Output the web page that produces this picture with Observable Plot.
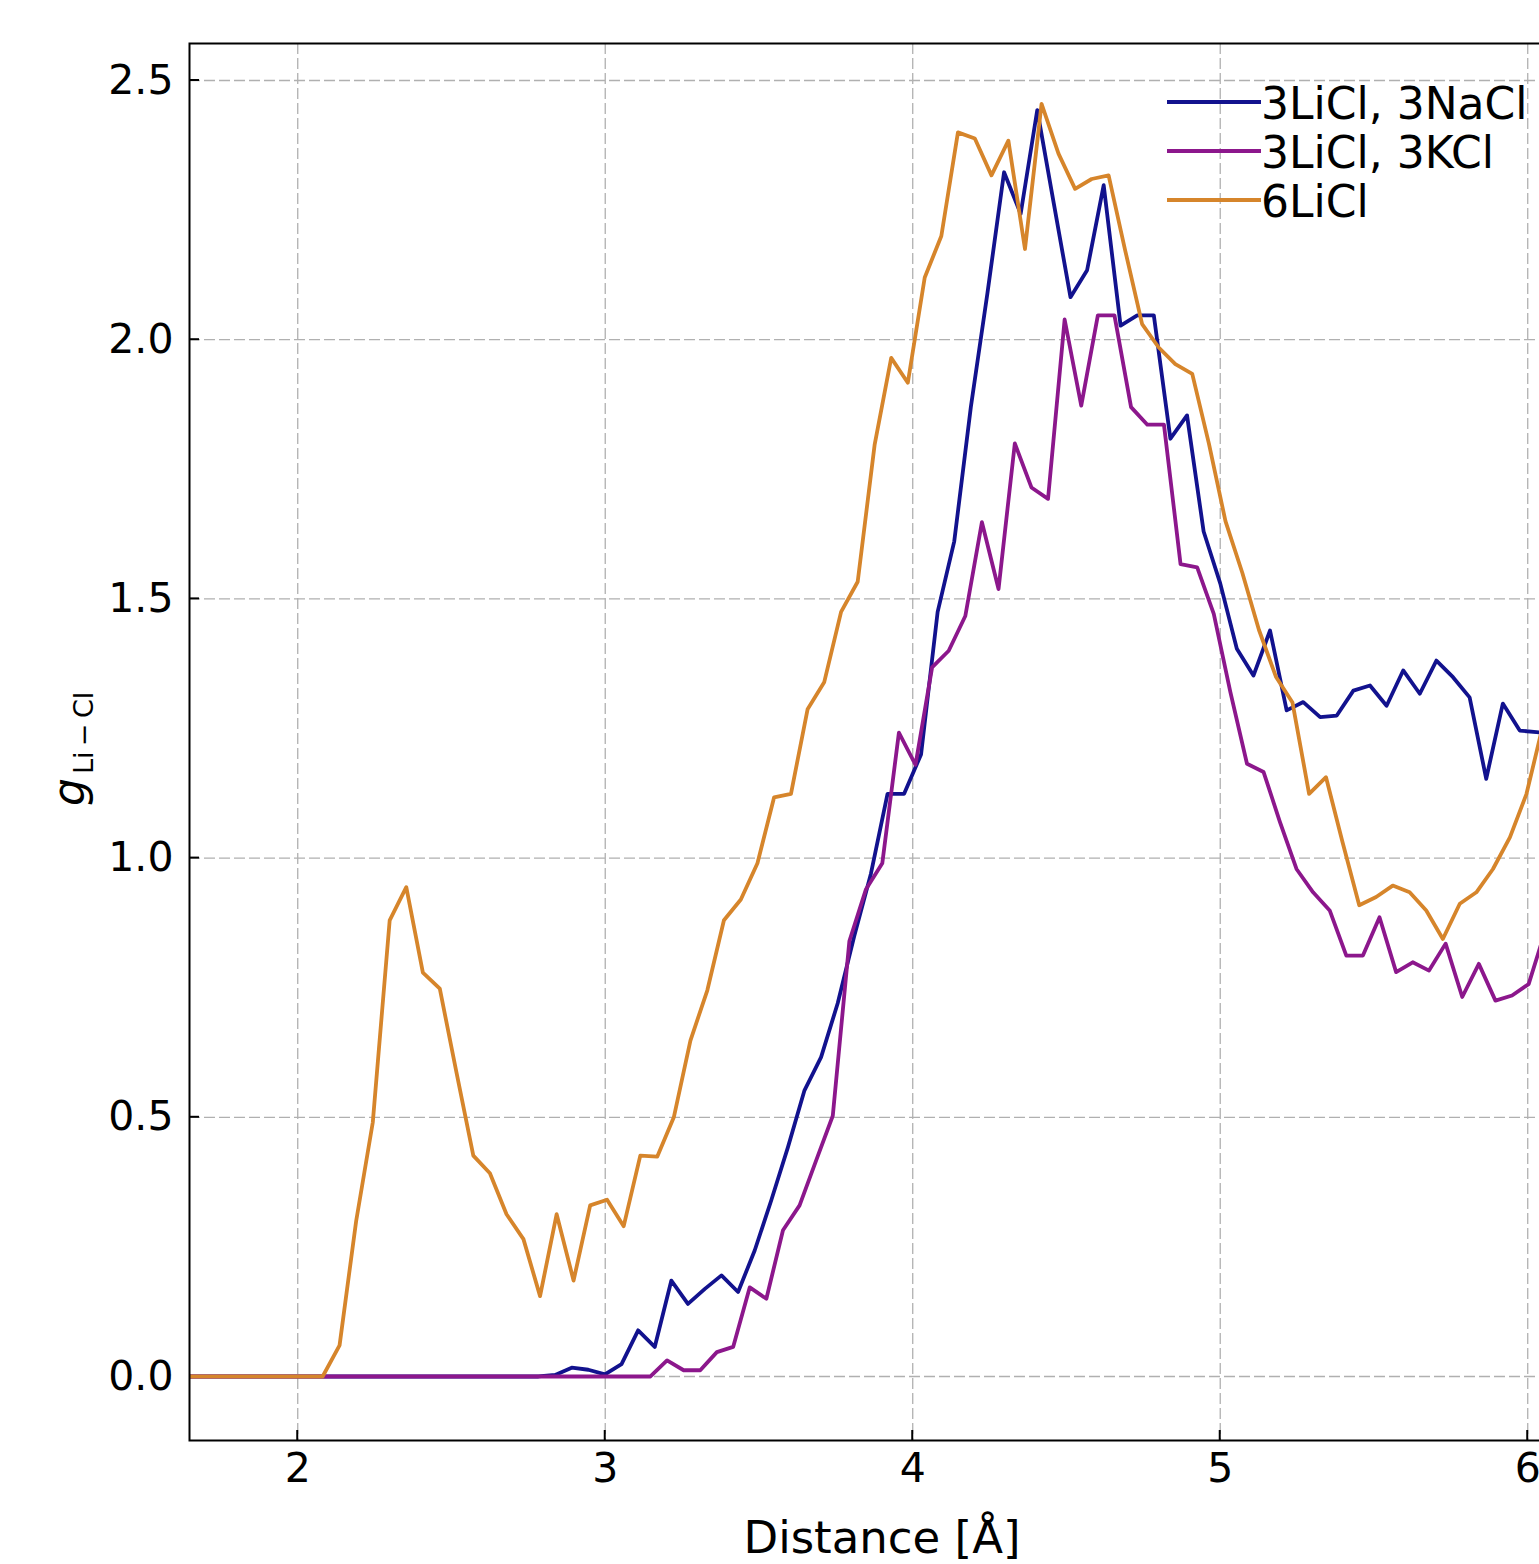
<!DOCTYPE html>
<html><head><meta charset="utf-8">
<script src="https://cdn.jsdelivr.net/npm/d3@7"></script>
<script src="https://cdn.jsdelivr.net/npm/@observablehq/plot@0.6"></script>
<style>
html,body{margin:0;padding:0;background:#fff;overflow:hidden;}
#chart svg{display:block;}
</style></head><body><div id="chart"></div>
<script>
// 3LiCl, 3NaCl
const distNaCl = [1.647, 2.783, 2.837, 2.891, 2.945, 2.999, 3.053, 3.107, 3.161, 3.215, 3.269, 3.324, 3.378, 3.432, 3.486, 3.540, 3.594, 3.648, 3.702, 3.756, 3.810, 3.864, 3.918, 3.972, 4.027, 4.081, 4.135, 4.189, 4.243, 4.297, 4.351, 4.405, 4.459, 4.513, 4.567, 4.621, 4.676, 4.730, 4.784, 4.838, 4.892, 4.946, 5.000, 5.054, 5.108, 5.162, 5.216, 5.270, 5.325, 5.379, 5.433, 5.487, 5.541, 5.595, 5.649, 5.703, 5.757, 5.811, 5.865, 5.919, 5.974, 6.028, 6.082];
const gNaCl = [0, 0, 0.003, 0.017, 0.013, 0.004, 0.024, 0.089, 0.057, 0.185, 0.140, 0.169, 0.195, 0.163, 0.243, 0.34, 0.442, 0.552, 0.616, 0.72, 0.85, 0.97, 1.124, 1.124, 1.20, 1.475, 1.611, 1.87, 2.09, 2.323, 2.243, 2.443, 2.262, 2.082, 2.134, 2.298, 2.027, 2.047, 2.047, 1.809, 1.854, 1.63, 1.53, 1.404, 1.352, 1.439, 1.285, 1.301, 1.272, 1.275, 1.323, 1.333, 1.294, 1.362, 1.317, 1.381, 1.349, 1.31, 1.153, 1.298, 1.246, 1.243, 1.24];
// 3LiCl, 3KCl
const distKCl = [1.638, 3.147, 3.201, 3.255, 3.309, 3.363, 3.416, 3.470, 3.524, 3.578, 3.632, 3.686, 3.740, 3.794, 3.848, 3.901, 3.955, 4.009, 4.063, 4.117, 4.171, 4.225, 4.279, 4.332, 4.386, 4.440, 4.494, 4.548, 4.602, 4.656, 4.710, 4.763, 4.817, 4.871, 4.925, 4.979, 5.033, 5.087, 5.141, 5.194, 5.248, 5.302, 5.356, 5.410, 5.464, 5.518, 5.572, 5.626, 5.679, 5.733, 5.787, 5.841, 5.895, 5.949, 6.003, 6.057];
const gKCl = [0, 0, 0.031, 0.012, 0.012, 0.047, 0.057, 0.172, 0.15, 0.282, 0.33, 0.417, 0.503, 0.84, 0.94, 0.99, 1.242, 1.18, 1.368, 1.40, 1.467, 1.648, 1.519, 1.80, 1.715, 1.693, 2.039, 1.873, 2.047, 2.047, 1.870, 1.836, 1.836, 1.567, 1.561, 1.471, 1.32, 1.182, 1.166, 1.07, 0.979, 0.934, 0.899, 0.812, 0.812, 0.886, 0.78, 0.799, 0.783, 0.835, 0.732, 0.796, 0.725, 0.735, 0.757, 0.86];
// 6LiCl
const distLiCl = [1.646, 2.081, 2.136, 2.190, 2.244, 2.299, 2.353, 2.407, 2.462, 2.516, 2.571, 2.625, 2.679, 2.734, 2.788, 2.842, 2.897, 2.951, 3.006, 3.060, 3.114, 3.169, 3.223, 3.277, 3.332, 3.386, 3.441, 3.495, 3.549, 3.604, 3.658, 3.712, 3.767, 3.821, 3.876, 3.930, 3.984, 4.039, 4.093, 4.147, 4.202, 4.256, 4.311, 4.365, 4.419, 4.474, 4.528, 4.582, 4.637, 4.691, 4.746, 4.800, 4.854, 4.909, 4.963, 5.017, 5.072, 5.126, 5.181, 5.235, 5.289, 5.344, 5.398, 5.452, 5.507, 5.561, 5.616, 5.670, 5.724, 5.779, 5.833, 5.887, 5.942, 5.996, 6.051];
const gLiCl = [0, 0, 0.06, 0.30, 0.49, 0.88, 0.944, 0.779, 0.748, 0.587, 0.426, 0.392, 0.313, 0.265, 0.155, 0.313, 0.185, 0.330, 0.341, 0.290, 0.426, 0.424, 0.50, 0.648, 0.745, 0.88, 0.92, 0.99, 1.117, 1.124, 1.287, 1.339, 1.475, 1.533, 1.797, 1.965, 1.917, 2.12, 2.20, 2.40, 2.388, 2.317, 2.384, 2.175, 2.455, 2.359, 2.291, 2.31, 2.317, 2.172, 2.03, 1.985, 1.953, 1.934, 1.80, 1.65, 1.55, 1.44, 1.35, 1.30, 1.124, 1.156, 1.03, 0.909, 0.925, 0.947, 0.934, 0.899, 0.844, 0.912, 0.934, 0.979, 1.04, 1.124, 1.26];

const seriesNames = ["3LiCl, 3NaCl", "3LiCl, 3KCl", "6LiCl"];
const seriesColors = ["#12128e", "#8c178c", "#d6852b"];
const xTicks = [2, 3, 4, 5, 6];
const yTicks = [0, 0.5, 1.0, 1.5, 2.0, 2.5];
const xLabel = "Distance [Å]";

const toRows = (xs, ys) => xs.map((r, i) => ({r, g: ys[i]}));
const series = [toRows(distNaCl, gNaCl), toRows(distKCl, gKCl), toRows(distLiCl, gLiCl)];

const W = 1580, H = 1564, ML = 189, MT = 43, MB = 124;
const gridStyle = {stroke: "#b0b0b0", strokeOpacity: 1, strokeWidth: 1.3, strokeDasharray: "11,4"};
const plot = Plot.plot({
  width: W, height: H,
  marginLeft: ML, marginRight: 0, marginTop: MT, marginBottom: MB,
  style: {fontFamily: "'DejaVu Sans', sans-serif", color: "#000", background: "#fff", maxWidth: "none", overflow: "visible"},
  x: {domain: [1.648, 6.1716]},
  y: {domain: [-0.1235, 2.5714]},
  marks: [
    Plot.gridX(xTicks, gridStyle),
    Plot.gridY(yTicks, gridStyle),
    ...series.map((rows, i) => Plot.line(rows, {x: "r", y: "g", stroke: seriesColors[i], strokeWidth: 3.8, clip: true})),
    Plot.frame({stroke: "#000", strokeWidth: 2}),
    Plot.axisX(xTicks, {tickSize: 0, tickPadding: 12, fontSize: 41, label: null, tickFormat: d3.format("d")}),
    Plot.axisY(yTicks, {tickSize: 0, tickPadding: 16, fontSize: 41, label: null, tickFormat: d3.format(".1f")})
  ]
});
document.getElementById("chart").appendChild(plot);

const svg = d3.select(plot);
const sx = plot.scale("x"), sy = plot.scale("y");
const bottom = H - MB;
// inward tick marks, positioned through Plot's scales, drawn beneath the lines
const firstLine = plot.querySelector("g[aria-label='line']");
const tkNode = document.createElementNS("http://www.w3.org/2000/svg", "g");
plot.insertBefore(tkNode, firstLine);
const tk = d3.select(tkNode).attr("stroke", "#000").attr("stroke-width", 2);
xTicks.forEach(v => { const x = sx.apply(v); tk.append("line").attr("x1", x).attr("x2", x).attr("y1", bottom).attr("y2", bottom - 10); });
yTicks.forEach(v => { const y = sy.apply(v); tk.append("line").attr("x1", ML).attr("x2", ML + 10).attr("y1", y).attr("y2", y); });
// legend
const lg = svg.append("g").attr("font-family", "'DejaVu Sans', sans-serif").attr("font-size", 44).attr("text-anchor", "start");
seriesNames.forEach((name, i) => {
  const y = 102 + i * 49;
  lg.append("line").attr("x1", 1167).attr("x2", 1261).attr("y1", y).attr("y2", y)
    .attr("stroke", seriesColors[i]).attr("stroke-width", 4);
  lg.append("text").attr("x", 1261).attr("y", y + 17).attr("fill", "#000").text(name);
});
// x label
svg.append("text").attr("x", 882).attr("y", 1553).attr("text-anchor", "middle")
  .attr("font-family", "'DejaVu Sans', sans-serif").attr("font-size", 45).attr("fill", "#000").text(xLabel);
// y label
const yl = svg.append("text").attr("transform", "translate(84,806) rotate(-90)").attr("text-anchor", "start")
  .attr("font-family", "'DejaVu Sans', sans-serif").attr("fill", "#000");
yl.append("tspan").attr("font-size", 44).attr("font-style", "italic").text("g");
yl.append("tspan").attr("font-size", 27).attr("dx", 4).attr("dy", 9).text("Li\u2009\u2212\u2009Cl");
</script></body></html>
